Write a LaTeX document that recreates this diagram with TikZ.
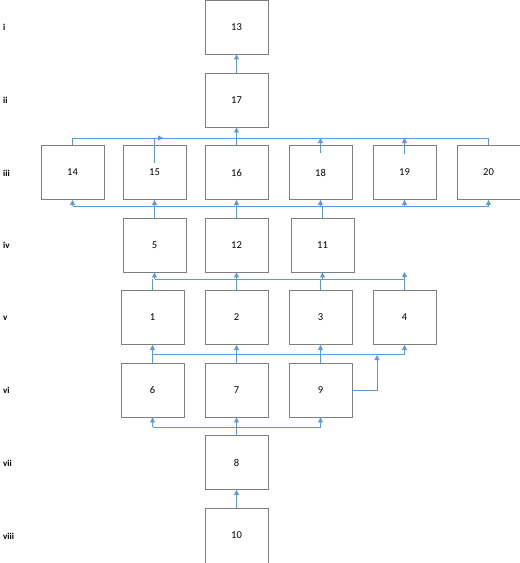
\documentclass[tikz,border=0pt]{standalone}
\usepackage{fontspec}
\setmainfont{Carlito}
\usetikzlibrary{arrows.meta}
\definecolor{boxgray}{HTML}{7F7F7F}
\definecolor{wireblue}{HTML}{5B9BD5}
\tikzset{
  box/.style={draw=boxgray, line width=0.9pt, minimum width=63pt, minimum height=54pt, inner sep=0pt, font=\fontsize{10.5}{12}\selectfont},
  wire/.style={draw=wireblue, line width=0.8pt},
  arr/.style={wire, -{Triangle[length=5pt,width=5pt]}},
  lvl/.style={anchor=west, inner sep=0pt, font=\fontsize{9}{10}\selectfont\bfseries}
}
\begin{document}
\begin{tikzpicture}[x=1pt,y=-1pt]
\useasboundingbox (0,0) rectangle (520,563);
% level labels
\node[lvl] (Li) at (3,27) {i};
\node[lvl] (Lii) at (3,100) {ii};
\node[lvl] (Liii) at (3,173) {iii};
\node[lvl] (Liv) at (3,245) {iv};
\node[lvl] (Lv) at (3,318) {v};
\node[lvl] (Lvi) at (3,390) {vi};
\node[lvl] (Lvii) at (3,463) {vii};
\node[lvl] (Lviii) at (3,536) {viii};
% boxes
\node[box] (n13) at (236.5,27) {13};
\node[box] (n17) at (236.5,100) {17};
\node[box] (n14) at (72.5,172.5) {14};
\node[box] (n15) at (154.5,172.5) {15};
\node[box] (n16) at (236.5,172.5) {16};
\node[box] (n18) at (320.5,172.5) {18};
\node[box] (n19) at (404.5,172.5) {19};
\node[box] (n20) at (488.5,172.5) {20};
\node[box] (n5) at (154.5,245) {5};
\node[box] (n12) at (236.5,245) {12};
\node[box] (n11) at (322.5,245) {11};
\node[box] (n1) at (152.5,317.5) {1};
\node[box] (n2) at (236.5,317.5) {2};
\node[box] (n3) at (320.5,317.5) {3};
\node[box] (n4) at (404.5,317.5) {4};
\node[box] (n6) at (152.5,390) {6};
\node[box] (n7) at (236.5,390) {7};
\node[box] (n9) at (320.5,390) {9};
\node[box] (n8) at (236.5,462.5) {8};
\node[box, minimum height=55pt] (n10) at (236.5,535.5) {10};
% bus coordinates
\coordinate (tb) at (0,138);
\coordinate (bb) at (0,206);
\coordinate (b45) at (0,279);
\coordinate (b56) at (0,354);
\coordinate (b67) at (0,427);
\coordinate (s15) at (154.5,163);
\coordinate (e15) at (163,138);
\coordinate (s18) at (320.5,153);
\coordinate (s19) at (404.5,154);
\coordinate (f4) at (404.5,272);
\coordinate (c9) at (377,355);
% top
\draw[arr] (n17.north) -- (n13.south);
\draw[arr] (n16.north) -- (n17.south);
\draw[wire] (n14.north) -- (n14.north |- tb) -- (n20.north |- tb) -- (n20.north);
\draw[arr] (s15) -- (s15 |- tb) -- (e15);
\draw[arr] (s18) -- (s18 |- tb);
\draw[arr] (s19) -- (s19 |- tb);
% bus below row iii
\draw[wire] (n14.south |- bb) -- (n20.south |- bb);
\foreach \n in {n14,n15,n16,n18,n19,n20} \draw[arr] (\n.south |- bb) -- (\n.south);
\foreach \n in {n5,n12,n11} \draw[wire] (\n.north) -- (\n.north |- bb);
% bus between iv and v
\draw[wire] (n5.south |- b45) -- (n4.north |- b45);
\foreach \n in {n5,n12,n11} \draw[arr] (\n.south |- b45) -- (\n.south);
\draw[arr] (n4.north |- b45) -- (f4);
\foreach \n in {n1,n2,n3,n4} \draw[wire] (\n.north) -- (\n.north |- b45);
% bus between v and vi
\draw[wire] (n1.south |- b56) -- (n4.south |- b56);
\foreach \n in {n1,n2,n3,n4} \draw[arr] (\n.south |- b56) -- (\n.south);
\foreach \n in {n6,n7,n9} \draw[wire] (\n.north) -- (\n.north |- b56);
\draw[arr] (n9.east) -| (c9);
% bus between vi and vii
\draw[wire] (n6.south |- b67) -- (n9.south |- b67);
\foreach \n in {n6,n7,n9} \draw[arr] (\n.south |- b67) -- (\n.south);
\draw[wire] (n8.north) -- (n8.north |- b67);
\draw[arr] (n10.north) -- (n8.south);
\end{tikzpicture}
\end{document}
